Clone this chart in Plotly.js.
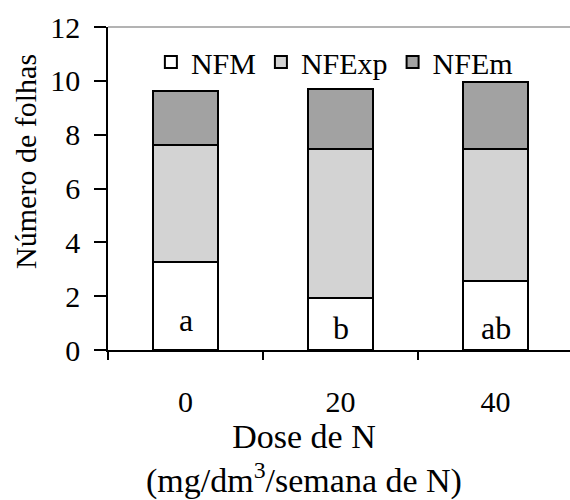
<!DOCTYPE html>
<html>
<head>
<meta charset="utf-8">
<script src="https://cdn.plot.ly/plotly-3.0.1.min.js"></script>
<style>
html,body{margin:0;padding:0;background:#fff;}
#chart{width:570px;height:500px;}
#chart text, #chart tspan { font-family: "Liberation Serif", "Times New Roman", serif !important; }
</style>
</head>
<body>
<div id="chart"></div>
<script>
const categories = ["0", "20", "40"];
const nfm = [3.27, 1.95, 2.55];
const nfexp = [4.36, 5.5, 4.9];
const nfem = [2.0, 2.25, 2.5];
const letters = ["a", "b", "ab"];
const letterY = [1.1, 0.82, 0.82];
const yTitle = "Número de folhas";
const xTitle = "Dose de N<br>(mg/dm<sup>3</sup>/semana de N)";

const FONT = "Liberation Serif";
const lineStyle = {color: "#000", width: 2};

const traces = [
  {type: "bar", name: "NFM", x: categories, y: nfm, marker: {color: "#ffffff", line: lineStyle}},
  {type: "bar", name: "NFExp", x: categories, y: nfexp, marker: {color: "#d3d3d3", line: lineStyle}},
  {type: "bar", name: "NFEm", x: categories, y: nfem, marker: {color: "#a2a2a2", line: lineStyle}}
];

const annotations = categories.map((c, i) => ({
  x: i, y: letterY[i], xref: "x", yref: "y", text: letters[i], showarrow: false,
  font: {family: FONT, size: 32, color: "#000"}, yanchor: "middle"
}));
annotations.push({
  xref: "paper", yref: "paper", x: -0.18, y: 0.585, xanchor: "center", yanchor: "middle",
  text: yTitle, textangle: -90, showarrow: false, font: {family: FONT, size: 30, color: "#000"}
});
annotations.push({
  xref: "paper", yref: "paper", x: 0.424, y: -0.338, xanchor: "center", yanchor: "middle",
  text: xTitle, showarrow: false, font: {family: FONT, size: 34, color: "#000"}
});

const layout = {
  width: 570, height: 500,
  margin: {l: 108, r: 0, t: 27, b: 150},
  paper_bgcolor: "#fff", plot_bgcolor: "#fff",
  font: {family: FONT, size: 30, color: "#000"},
  barmode: "stack",
  bargap: 0.58,
  showlegend: true,
  legend: {orientation: "h", x: 0.49, xanchor: "center", y: 0.892, yanchor: "middle",
           font: {family: FONT, size: 30, color: "#000"}, itemwidth: 30, tracegroupgap: 0,
           bgcolor: "rgba(0,0,0,0)", traceorder: "normal"},
  xaxis: {
    type: "category", range: [-0.5, 2.48],
    showline: true, linecolor: "#000", linewidth: 1.5,
    ticks: "outside", tickson: "boundaries", ticklen: 8, tickwidth: 1.5, tickcolor: "#000",
    ticklabelstandoff: 24,
    tickfont: {family: FONT, size: 30, color: "#000"},
    showgrid: false, zeroline: false
  },
  yaxis: {
    range: [0, 12], dtick: 2, tick0: 0,
    showline: true, linecolor: "#000", linewidth: 1.5,
    ticks: "outside", ticklen: 12, tickwidth: 1.5, tickcolor: "#000",
    ticklabelstandoff: 8,
    tickfont: {family: FONT, size: 30, color: "#000"},
    showgrid: false, zeroline: false
  },
  shapes: [
    {type: "line", xref: "paper", yref: "paper", x0: 0, x1: 1, y0: 1, y1: 1,
     line: {color: "#9a9a9a", width: 1.5}}
  ],
  annotations: annotations
};

const gd = document.getElementById("chart");
Plotly.newPlot(gd, traces, layout, {displayModeBar: false}).then(() => {
  gd.querySelectorAll("text").forEach(el => {
    getComputedStyle(el).fontFamily;
    el.style.fontFamily = '"Liberation Serif", serif';
  });
});
</script>
</body>
</html>
